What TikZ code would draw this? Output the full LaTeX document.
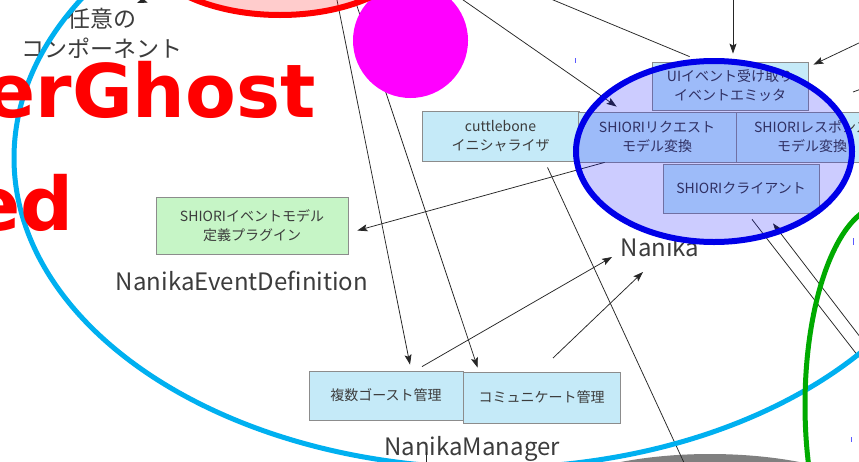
\documentclass[tikz,border=0pt]{standalone}
\usepackage{fontspec}
\setmainfont{Noto Sans CJK JP}
\newfontfamily\ghostfont{DejaVu Sans}
\usetikzlibrary{arrows.meta}
\definecolor{skyline}{RGB}{0,176,240}
\definecolor{boxblue}{RGB}{197,234,248}
\definecolor{boxgreen}{RGB}{198,245,198}
\definecolor{boxedge}{RGB}{140,140,140}
\definecolor{labelgray}{RGB}{60,60,60}
\definecolor{nkblue}{RGB}{0,0,232}
\definecolor{nkgreen}{RGB}{0,170,0}
\definecolor{nkmagenta}{RGB}{255,0,255}
\definecolor{tickblue}{RGB}{90,90,255}

\begin{document}
\begin{tikzpicture}[x=1pt,y=-1pt,
  every node/.style={text=labelgray},
  modbox/.style={draw=boxedge,fill=boxblue,line width=0.8pt,inner sep=0pt,align=center,font=\fontsize{14}{19}\selectfont},
  pkglabel/.style={font=\fontsize{24}{28}\selectfont,inner sep=0pt,anchor=base},
  dep/.style={draw=black!85,line width=0.75pt,-{Stealth[length=10pt,width=7pt,inset=2pt]}},
  link/.style={draw=black!85,line width=0.75pt},
  ghosttext/.style={font=\ghostfont\bfseries\fontsize{74}{80}\selectfont,text=red,inner sep=0pt,anchor=base east}]
\useasboundingbox (0,0) rectangle (859,461);
\clip (0,0) rectangle (859,461);
\fill[white] (0,0) rectangle (859,461);
% shape peeking in at the bottom
\fill[gray] (710,530) ellipse [x radius=200, y radius=76];
% modules
\node[modbox,fill=boxgreen,minimum width=192pt,minimum height=57pt] (nedef) at (252,225.5) {SHIORIイベントモデル\\定義プラグイン};
\node[modbox,minimum width=157pt,minimum height=50pt] (cuttle) at (500.5,136) {cuttlebone\\イニシャライザ};
\node[modbox,minimum width=156pt,minimum height=48pt] (ui) at (730,86) {UIイベント受け取り\\イベントエミッタ};
\node[modbox,minimum width=158pt,minimum height=50pt] (shireq) at (657,137) {SHIORIリクエスト\\モデル変換};
\node[modbox,minimum width=152pt,minimum height=50pt] (shires) at (812,137) {SHIORIレスポンス\\モデル変換};
\node[modbox,minimum width=156pt,minimum height=49pt] (shicli) at (741,188.5) {SHIORIクライアント};
\node[modbox,minimum width=154pt,minimum height=49pt] (multi) at (386,395.5) {複数ゴースト管理};
\node[modbox,minimum width=157pt,minimum height=51pt] (commune) at (541.5,397.5) {コミュニケート管理};
% package names
\node[pkglabel] (nedeflbl) at (242,290) {NanikaEventDefinition};
\node[pkglabel] (nanikalbl) at (660,256) {Nanika};
\node[pkglabel] (managerlbl) at (472,455) {NanikaManager};
\node[align=center,font=\fontsize{23}{30}\selectfont,inner sep=0pt] (anycomp) at (102,33) {任意の\\コンポーネント};
% free ends
\coordinate (topa) at (330,-35);
\coordinate (topb) at (345,-30);
\coordinate (topc) at (420,-30);
\coordinate (topd) at (481,-30);
\coordinate (tope) at (733,-30);
\coordinate (topf) at (920,14);
\coordinate (topk) at (175,-12);
\coordinate (tlhead) at (137,3);
\coordinate (stubr) at (853,92);
\coordinate (offr) at (880,82);
\coordinate (offg) at (692,480);
\coordinate (offh) at (900,410);
\coordinate (offi) at (900,389);
\coordinate (nkin1) at (612,257);
\coordinate (nktail) at (553,358);
\coordinate (nkin2) at (643,272);
\coordinate (mgrstub) at (426,452);
\coordinate (offj) at (426,470);
% connectors
\draw[dep] (topa) -- ([xshift=24pt,yshift=6pt]multi.north);
\draw[dep] (topb) -- ([xshift=15pt,yshift=4pt]commune.north west);
\draw[dep] (topc) -- ([xshift=39pt,yshift=5pt]shireq.north west);
\draw[link] ([xshift=38pt,yshift=5pt]ui.north west) -- (topd);
\draw[dep] (tope) -- ([xshift=3pt,yshift=8pt]ui.north);
\draw[dep] (topf) -- ([xshift=5pt,yshift=-3pt]ui.north east);
\draw[dep] (topk) -- (tlhead);
\draw[link] (stubr) -- (offr);
\draw[dep] ([xshift=27pt]shireq.south west) -- ([xshift=9pt,yshift=-5pt]nedef.east);
\draw[link] ([xshift=47pt,yshift=-6pt]cuttle.south) -- (offg);
\draw[dep] ([xshift=36pt,yshift=4pt]multi.north) -- (nkin1);
\draw[dep] (nktail) -- (nkin2);
\draw[link] ([xshift=11pt,yshift=-6pt]shicli.south) -- (offh);
\draw[dep] (offi) -- ([xshift=32pt,yshift=-10pt]shicli.south);
\draw[link] (mgrstub) -- (offj);
% markings on top
\fill[nkmagenta] (410.5,40.5) circle [radius=57.5];
\draw[red,line width=6pt,fill=red,fill opacity=0.2] (280,-60) ellipse [x radius=140, y radius=75];
\draw[nkblue,line width=6pt,fill=blue,fill opacity=0.2] (714,151.5) ellipse [x radius=138, y radius=90.5];
\draw[skyline,line width=5pt] (490,158) ellipse [x radius=476, y radius=310];
\draw[nkgreen,line width=5pt] (884,405) ellipse [x radius=79, y radius=200];
\draw[tickblue,line width=0.8pt] (575,58) -- (575,63);
\draw[tickblue,line width=0.8pt] (853,238) -- (853,245);
\draw[tickblue,line width=0.8pt] (851,437) -- (851,442);
\node[ghosttext] (ghostname) at (316,117) {erGhost};
\node[ghosttext] (ghosttail) at (74,230) {ed};
\end{tikzpicture}
\end{document}
